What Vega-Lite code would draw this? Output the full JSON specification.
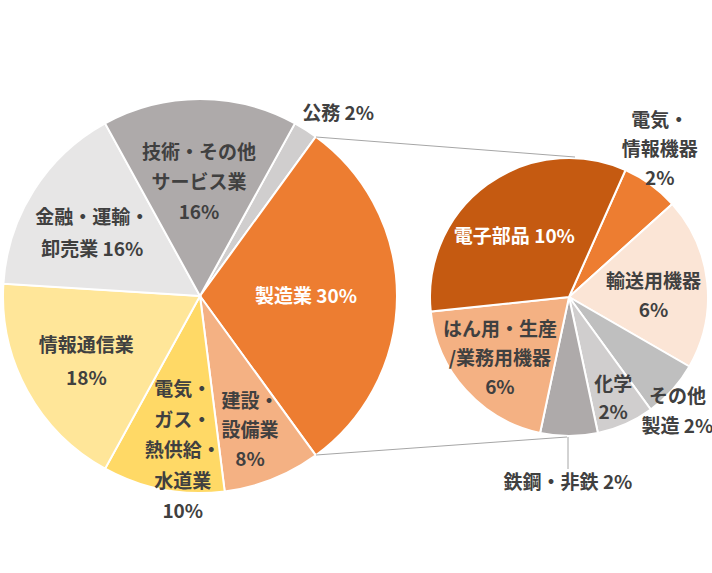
{
  "$schema": "https://vega.github.io/schema/vega-lite/v6.json",
  "width": 712,
  "height": 573,
  "padding": 0,
  "autosize": {"type": "none"},
  "background": "white",
  "config": {"view": {"stroke": null}, "text": {"font": "Noto Sans CJK JP", "fontSize": 19}},
  "resolve": {"scale": {"theta": "independent"}},
  "layer": [
    {
      "data": {"values": [
        {"k": "公務", "v": 2, "o": 1, "label": "公務 2%"},
        {"k": "製造業", "v": 30, "o": 2, "label": "製造業 30%"},
        {"k": "建設・設備業", "v": 8, "o": 3, "label": "建設・\n設備業\n8%"},
        {"k": "電気・ガス・熱供給・水道業", "v": 10, "o": 4, "label": "電気・\nガス・\n熱供給・\n水道業\n10%"},
        {"k": "情報通信業", "v": 18, "o": 5, "label": "情報通信業\n18%"},
        {"k": "金融・運輸・卸売業", "v": 16, "o": 6, "label": "金融・運輸・\n卸売業 16%"},
        {"k": "技術・その他サービス業", "v": 16, "o": 7, "label": "技術・その他\nサービス業\n16%"}
      ]},
      "encoding": {
        "theta": {"field": "v", "type": "quantitative", "stack": true, "scale": {"domain": [0, 100], "range": [0.502655, 6.78584]}},
        "order": {"field": "o", "type": "quantitative"},
        "detail": {"field": "k", "type": "nominal"}
      },
      "layer": [
        {
          "mark": {"type": "arc", "outerRadius": 197, "x": 200, "y": 296, "stroke": "white", "strokeWidth": 2},
          "encoding": {
            "color": {"field": "k", "type": "nominal", "legend": null, "scale": {
              "domain": ["公務", "製造業", "建設・設備業", "電気・ガス・熱供給・水道業", "情報通信業", "金融・運輸・卸売業", "技術・その他サービス業", "電気・情報機器", "輸送用機器", "その他製造", "化学", "鉄鋼・非鉄", "はん用・生産/業務用機器", "電子部品"],
              "range": ["#D0CECE", "#ED7D31", "#F4B183", "#FFD966", "#FFE699", "#E7E6E6", "#AEAAAA", "#ED7D31", "#FBE5D6", "#BFBFBF", "#D0CECE", "#AEAAAA", "#F4B183", "#C55A11"]
            }}
          }
        },
        {"mark": {"type": "text", "x": 200, "y": 296, "radius": 228, "dx": 16, "dy": 11, "fontWeight": "bold", "color": "#404040", "lineBreak": "\n", "lineHeight": 31, "align": "center", "baseline": "middle"},
         "encoding": {"text": {"condition": {"test": "datum.k === '公務'", "field": "label"}, "value": ""}}},
        {"mark": {"type": "text", "x": 200, "y": 296, "radius": 106, "dx": 0, "dy": 1, "fontWeight": "bold", "color": "white", "lineBreak": "\n", "lineHeight": 31, "align": "center", "baseline": "middle"},
         "encoding": {"text": {"condition": {"test": "datum.k === '製造業'", "field": "label"}, "value": ""}}},
        {"mark": {"type": "text", "x": 200, "y": 296, "radius": 144, "dx": -3, "dy": -28, "fontWeight": "bold", "color": "#404040", "lineBreak": "\n", "lineHeight": 29, "align": "center", "baseline": "middle"},
         "encoding": {"text": {"condition": {"test": "datum.k === '建設・設備業'", "field": "label"}, "value": ""}}},
        {"mark": {"type": "text", "x": 200, "y": 296, "radius": 156, "dx": 12, "dy": -59, "fontWeight": "bold", "color": "#404040", "lineBreak": "\n", "lineHeight": 30.5, "align": "center", "baseline": "middle"},
         "encoding": {"text": {"condition": {"test": "datum.k === '電気・ガス・熱供給・水道業'", "field": "label"}, "value": ""}}},
        {"mark": {"type": "text", "x": 200, "y": 296, "radius": 132, "dx": 2, "dy": -13.5, "fontWeight": "bold", "color": "#404040", "lineBreak": "\n", "lineHeight": 33, "align": "center", "baseline": "middle"},
         "encoding": {"text": {"condition": {"test": "datum.k === '情報通信業'", "field": "label"}, "value": ""}}},
        {"mark": {"type": "text", "x": 200, "y": 296, "radius": 124, "dx": -3, "dy": -12, "fontWeight": "bold", "color": "#404040", "lineBreak": "\n", "lineHeight": 32, "align": "center", "baseline": "middle"},
         "encoding": {"text": {"condition": {"test": "datum.k === '金融・運輸・卸売業'", "field": "label"}, "value": ""}}},
        {"mark": {"type": "text", "x": 200, "y": 296, "radius": 113, "dx": -1, "dy": -30, "fontWeight": "bold", "color": "#404040", "lineBreak": "\n", "lineHeight": 30, "align": "center", "baseline": "middle"},
         "encoding": {"text": {"condition": {"test": "datum.k === '技術・その他サービス業'", "field": "label"}, "value": ""}}}
      ]
    },
    {
      "data": {"values": [
        {"k": "電気・情報機器", "v": 2, "o": 1, "label": "電気・\n情報機器\n2%"},
        {"k": "輸送用機器", "v": 6, "o": 2, "label": "輸送用機器\n6%"},
        {"k": "その他製造", "v": 2, "o": 3, "label": "その他\n製造 2%"},
        {"k": "化学", "v": 2, "o": 4, "label": "化学\n2%"},
        {"k": "鉄鋼・非鉄", "v": 2, "o": 5, "label": "鉄鋼・非鉄 2%"},
        {"k": "はん用・生産/業務用機器", "v": 6, "o": 6, "label": "はん用・生産\n/業務用機器\n6%"},
        {"k": "電子部品", "v": 10, "o": 7, "label": "電子部品 10%"}
      ]},
      "encoding": {
        "theta": {"field": "v", "type": "quantitative", "stack": true, "scale": {"domain": [0, 30], "range": [0.418879, 6.702064]}},
        "order": {"field": "o", "type": "quantitative"},
        "detail": {"field": "k", "type": "nominal"}
      },
      "layer": [
        {
          "mark": {"type": "arc", "outerRadius": 139, "x": 569, "y": 297, "stroke": "white", "strokeWidth": 2},
          "encoding": {"color": {"field": "k", "type": "nominal", "legend": null}}
        },
        {"mark": {"type": "text", "x": 569, "y": 297, "radius": 173, "dx": -11, "dy": -36, "fontWeight": "bold", "color": "#404040", "lineBreak": "\n", "lineHeight": 29, "align": "center", "baseline": "middle"},
         "encoding": {"text": {"condition": {"test": "datum.k === '電気・情報機器'", "field": "label"}, "value": ""}}},
        {"mark": {"type": "text", "x": 569, "y": 297, "radius": 85, "dx": 0, "dy": -6.5, "fontWeight": "bold", "color": "#404040", "lineBreak": "\n", "lineHeight": 29, "align": "center", "baseline": "middle"},
         "encoding": {"text": {"condition": {"test": "datum.k === '輸送用機器'", "field": "label"}, "value": ""}}},
        {"mark": {"type": "text", "x": 569, "y": 297, "radius": 158, "dx": -9, "dy": -6, "fontWeight": "bold", "color": "#404040", "lineBreak": "\n", "lineHeight": 30, "align": "center", "baseline": "middle"},
         "encoding": {"text": {"condition": {"test": "datum.k === 'その他製造'", "field": "label"}, "value": ""}}},
        {"mark": {"type": "text", "x": 569, "y": 297, "radius": 111, "dx": -1, "dy": -13, "fontWeight": "bold", "color": "#404040", "lineBreak": "\n", "lineHeight": 28, "align": "center", "baseline": "middle"},
         "encoding": {"text": {"condition": {"test": "datum.k === '化学'", "field": "label"}, "value": ""}}},
        {"mark": {"type": "text", "x": 569, "y": 297, "radius": 186, "dx": -1, "dy": 0, "fontWeight": "bold", "color": "#404040", "lineBreak": "\n", "lineHeight": 30, "align": "center", "baseline": "middle"},
         "encoding": {"text": {"condition": {"test": "datum.k === '鉄鋼・非鉄'", "field": "label"}, "value": ""}}},
        {"mark": {"type": "text", "x": 569, "y": 297, "radius": 93, "dx": 0, "dy": -29, "fontWeight": "bold", "color": "#404040", "lineBreak": "\n", "lineHeight": 29, "align": "center", "baseline": "middle"},
         "encoding": {"text": {"condition": {"test": "datum.k === 'はん用・生産/業務用機器'", "field": "label"}, "value": ""}}},
        {"mark": {"type": "text", "x": 569, "y": 297, "radius": 81, "dx": -7, "dy": 6, "fontWeight": "bold", "color": "white", "lineBreak": "\n", "lineHeight": 30, "align": "center", "baseline": "middle"},
         "encoding": {"text": {"condition": {"test": "datum.k === '電子部品'", "field": "label"}, "value": ""}}}
      ]
    },
    {
      "data": {"values": [{}]},
      "mark": {"type": "rule", "color": "#A6A6A6", "strokeWidth": 1},
      "encoding": {"x": {"value": 316}, "y": {"value": 137}, "x2": {"value": 575}, "y2": {"value": 157}}
    },
    {
      "data": {"values": [{}]},
      "mark": {"type": "rule", "color": "#A6A6A6", "strokeWidth": 1},
      "encoding": {"x": {"value": 316}, "y": {"value": 455}, "x2": {"value": 567}, "y2": {"value": 437}}
    },
    {
      "data": {"values": [{}]},
      "mark": {"type": "rule", "color": "#A6A6A6", "strokeWidth": 1},
      "encoding": {"x": {"value": 568}, "y": {"value": 437}, "x2": {"value": 568}, "y2": {"value": 469}}
    }
  ]
}
